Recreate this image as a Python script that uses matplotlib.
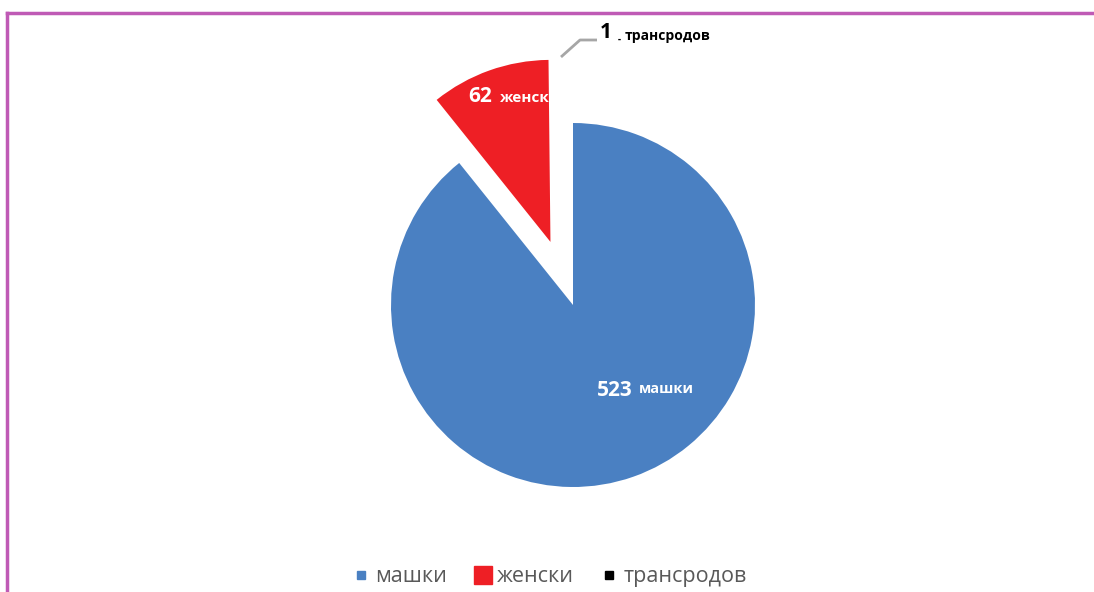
import matplotlib
matplotlib.use("Agg")
import matplotlib.pyplot as plt
from matplotlib.lines import Line2D
import numpy as np

plt.rcParams['font.family'] = ['Open Sans', 'DejaVu Sans']

# data
categories = ["машки", "женски", "трансродов"]
counts = [523, 62, 1]
colors = ["#4a80c2", "#ee1f25", "#000000"]

W, H = 1094, 592
fig = plt.figure(figsize=(W / 100, H / 100), dpi=100)
ax = fig.add_axes([0, 0, 1, 1])

cx, cy = 573, H - 305
radius = 182
explode = [0, 67, 67]

wedges, _ = ax.pie(counts, colors=colors, startangle=90, counterclock=False,
                   center=(cx, cy), radius=radius, explode=explode,
                   wedgeprops=dict(linewidth=0))
# the 1-count slice is too thin to show in the original
wedges[2].set_alpha(0.0)
ax.set_xlim(0, W)
ax.set_ylim(0, H)
ax.set_aspect('equal')
ax.axis('off')

# label inside blue slice
ax.text(cx + 24, cy - 86, str(counts[0]), color="white", fontsize=15,
        fontweight="bold", ha="left", va="center")
ax.text(cx + 66, cy - 84, categories[0], color="white", fontsize=10.5,
        fontweight="bold", ha="left", va="center")

# label inside red slice, clipped by the wedge
t1 = ax.text(cx - 105, cy + 209, str(counts[1]), color="white", fontsize=15,
             fontweight="bold", ha="left", va="center")
t2 = ax.text(cx - 73, cy + 207, categories[1], color="white", fontsize=11,
             fontweight="bold", ha="left", va="center")
for t in (t1, t2):
    t.set_clip_path(wedges[1])

# leader line + label for the tiny black slice
ax.plot([cx - 12, cx + 7, cx + 24], [cy + 248, cy + 265, cy + 265],
        color="#a6a6a6", linewidth=2, solid_capstyle="butt")
ax.text(cx + 27, cy + 272, str(counts[2]), color="black", fontsize=15,
        fontweight="bold", ha="left", va="center")
ax.text(cx + 45, cy + 266, "-", color="black", fontsize=7,
        fontweight="bold", ha="left", va="center")
ax.text(cx + 52, cy + 269, categories[2], color="black", fontsize=10,
        fontweight="bold", ha="left", va="center")

# legend
sizes = [6, 13, 6]
handles = [Line2D([], [], marker='s', linestyle='', color=c, markersize=s)
           for c, s in zip(colors, sizes)]
fig.legend(handles, categories, loc="center", bbox_to_anchor=(0.502, 0.026),
           ncol=3, frameon=False, fontsize=15.5, labelcolor="#595959",
           handletextpad=0.2, columnspacing=1.2, handlelength=0.9)

# purple frame (top and left edges)
frame_color = "#bf5ab5"
fig.add_artist(Line2D([7 / W, 1], [1 - 13 / H, 1 - 13 / H], color=frame_color,
                      linewidth=2.5, transform=fig.transFigure))
fig.add_artist(Line2D([7 / W, 7 / W], [0, 1 - 13 / H], color=frame_color,
                      linewidth=2.5, transform=fig.transFigure))

fig.savefig("out.png", dpi=100)
